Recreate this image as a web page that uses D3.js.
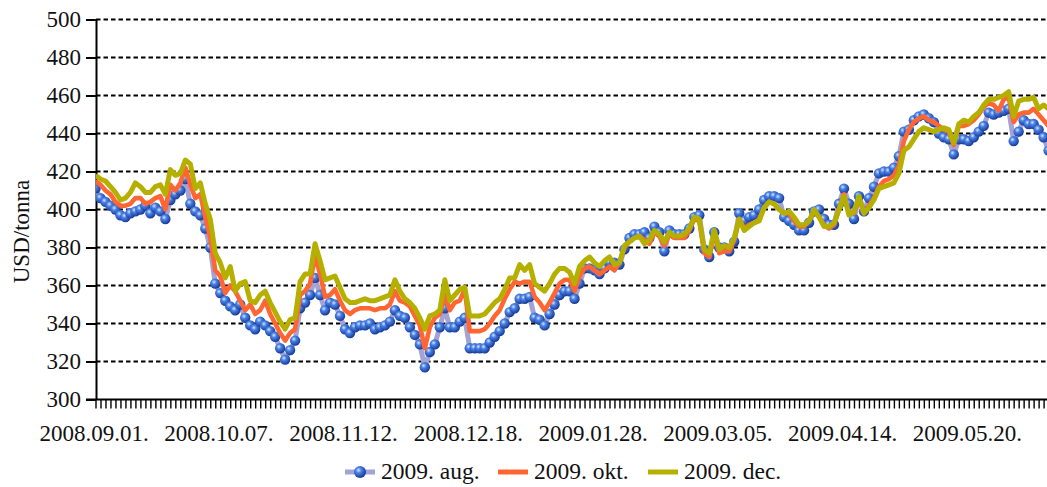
<!DOCTYPE html>
<html lang="hu">
<head>
<meta charset="utf-8">
<title>USD/tonna</title>
<script src="https://d3js.org/d3.v7.min.js"></script>
<style>
body { margin: 0; background: #fff; }
svg { display: block; font-family: "Liberation Serif", "DejaVu Serif", serif; }
.axis text { font-size: 23px; fill: #111; font-family: "Liberation Serif", serif; }
.axis path, .axis line { stroke: #000; }
.legend text { font-size: 23.5px; fill: #111; }
</style>
</head>
<body>
<svg width="1047" height="487"></svg>
<script>
// tick labels, one every 25 trading days
var xLabels = ["2008.09.01.", "2008.10.07.", "2008.11.12.", "2008.12.18.",
               "2009.01.28.", "2009.03.05.", "2009.04.14.", "2009.05.20."];
var labelEvery = 25;
var yTicks = [300, 320, 340, 360, 380, 400, 420, 440, 460, 480, 500];

// 2009. aug.
var aug = [411,406,404,402,400,397,396,398,399,400,402,398,401,399,395,405,408,410,416,403,
           399,397,390,380,361,356,352,349,347,350,343,339,337,341,339,336,333,327,321,326,
           331,348,351,355,364,355,347,351,350,344,337,335,338,339,339,340,337,338,339,341,
           347,344,343,338,334,329,317,325,329,338,348,338,338,341,343,327,327,327,327,330,
           333,336,340,346,348,353,353,354,343,342,339,345,350,355,357,357,353,361,369,369,
           368,366,369,372,372,371,379,385,387,387,388,385,391,388,378,389,387,387,387,390,
           396,397,379,375,388,380,380,378,383,398,394,396,397,400,405,407,407,406,396,394,
           392,389,389,393,399,400,395,392,392,403,411,403,395,407,399,406,412,419,420,420,
           422,428,441,442,447,449,450,448,446,440,438,437,429,437,437,436,438,441,444,451,
           450,451,452,453,436,441,447,445,445,442,438,431];
// 2009. okt.
var okt = [415,413,410,408,404,402,402,403,406,406,403,404,406,407,400,413,410,414,422,413,
           406,408,396,385,368,365,356,360,357,352,347,350,345,347,352,345,340,335,331,335,
           337,355,357,361,376,366,354,355,358,352,347,345,347,348,348,348,347,348,348,350,
           357,352,351,349,344,339,327,338,343,345,355,347,351,352,358,336,336,336,337,340,
           344,347,353,358,362,361,362,362,354,351,347,351,356,361,363,363,357,365,369,370,
           368,366,368,370,368,372,380,383,385,386,384,382,388,386,381,387,385,385,385,389,
           395,394,377,375,388,377,378,378,384,395,390,392,393,395,401,404,403,400,398,398,
           394,391,391,394,399,396,392,390,392,400,408,398,398,406,398,402,406,412,415,416,
           418,423,436,442,446,448,449,447,446,444,442,441,434,444,444,445,447,450,454,456,
           455,452,458,459,446,450,451,451,453,450,447,444];
// 2009. dec.
var dec = [418,416,415,412,409,405,406,409,414,412,409,409,412,413,408,421,418,419,426,424,
           411,414,403,395,377,372,364,370,357,361,362,352,351,355,357,351,346,341,337,342,
           343,362,366,366,382,373,363,364,365,359,353,351,351,352,353,352,352,353,354,355,
           363,357,353,351,348,343,337,344,345,347,363,352,355,358,359,344,344,344,345,348,
           351,353,358,364,364,371,368,371,361,359,357,361,366,369,369,367,361,370,373,375,
           372,370,373,375,371,372,381,383,385,386,382,384,389,387,383,388,386,386,387,390,
           396,395,379,377,389,379,381,380,385,395,389,391,393,394,401,404,403,400,398,399,
           396,392,392,394,400,396,391,391,393,400,407,397,399,407,398,401,405,411,412,413,
           414,419,431,433,437,441,443,442,441,442,443,442,435,445,447,446,449,451,455,458,
           458,459,460,462,449,457,458,458,459,453,455,453];

var svg = d3.select("svg"),
    width = +svg.attr("width"),
    plotLeft = 96,
    step = 4.99,
    plotTop = 19.5,
    plotBottom = 399.5;

var x = d3.scalePoint()
    .domain(d3.range(aug.length))
    .range([plotLeft - 0.5, plotLeft - 0.5 + step * (aug.length - 1)]);
var y = d3.scaleLinear().domain([300, 500]).range([plotBottom, plotTop]);

// sphere look for the aug markers
var defs = svg.append("defs");
var grad = defs.append("radialGradient").attr("id", "ball")
    .attr("cx", "38%").attr("cy", "35%").attr("r", "65%");
grad.append("stop").attr("offset", "0%").attr("stop-color", "#d6e6ff");
grad.append("stop").attr("offset", "35%").attr("stop-color", "#4a82e6");
grad.append("stop").attr("offset", "100%").attr("stop-color", "#163a98");

defs.append("clipPath").attr("id", "plot").append("rect")
    .attr("x", plotLeft).attr("y", 0).attr("width", width - plotLeft).attr("height", plotBottom + 2);

// dotted grid
svg.append("g").selectAll("line")
   .data(yTicks.filter(function(d) { return d > 300; }))
   .enter().append("line")
   .attr("x1", plotLeft).attr("x2", width)
   .attr("y1", function(d) { return y(d); })
   .attr("y2", function(d) { return y(d); })
   .attr("stroke", "#000")
   .attr("stroke-width", 2)
   .attr("stroke-dasharray", "4.5,3");

// x axis, a tick for every day
svg.append("g")
   .attr("class", "axis")
   .attr("transform", "translate(0," + plotBottom + ")")
   .call(d3.axisBottom(x)
     .tickSize(9).tickSizeOuter(0).tickPadding(16)
     .tickFormat(function(i) { return i % labelEvery === 0 ? (xLabels[i / labelEvery] || "") : ""; }))
   .call(function(g) {
     g.select(".domain").remove();
     g.selectAll(".tick line").attr("stroke-width", 1.4);
     g.selectAll(".tick text").attr("dx", "-2");
   });
svg.append("line")
   .attr("x1", plotLeft - 10).attr("x2", width)
   .attr("y1", plotBottom).attr("y2", plotBottom)
   .attr("stroke", "#000").attr("stroke-width", 2);

// y axis
svg.append("g")
   .attr("class", "axis")
   .attr("transform", "translate(" + plotLeft + ",0)")
   .call(d3.axisLeft(y).tickValues(yTicks).tickSize(10).tickSizeOuter(0).tickPadding(5))
   .call(function(g) {
     g.select(".domain").attr("stroke-width", 2);
     g.selectAll(".tick line").attr("stroke-width", 2);
   });

svg.append("text")
   .attr("transform", "translate(29," + ((plotTop + plotBottom) / 2 + 22) + ") rotate(-90)")
   .attr("text-anchor", "middle")
   .attr("font-size", "23px")
   .attr("fill", "#111")
   .text("USD/tonna");

var line = d3.line()
    .x(function(d, i) { return x(i); })
    .y(function(d) { return y(d); });

var plot = svg.append("g").attr("clip-path", "url(#plot)");

plot.append("path").datum(aug)
    .attr("d", line).attr("fill", "none")
    .attr("stroke", "#a3a3d6").attr("stroke-width", 5).attr("stroke-linejoin", "round");
plot.selectAll(".ball").data(aug)
    .enter().append("circle")
    .attr("class", "ball")
    .attr("cx", function(d, i) { return x(i); })
    .attr("cy", function(d) { return y(d); })
    .attr("r", 5.2)
    .attr("fill", "url(#ball)");
plot.append("path").datum(okt)
    .attr("d", line).attr("fill", "none")
    .attr("stroke", "#ff6633").attr("stroke-width", 4.6).attr("stroke-linejoin", "round");
plot.append("path").datum(dec)
    .attr("d", line).attr("fill", "none")
    .attr("stroke", "#b5b000").attr("stroke-width", 5).attr("stroke-linejoin", "round");

// legend
var legend = svg.append("g").attr("class", "legend");
var items = [
  { name: "2009. aug.", color: "#a3a3d6", ball: true, x: 345 },
  { name: "2009. okt.", color: "#ff6633", ball: false, x: 498 },
  { name: "2009. dec.", color: "#b5b000", ball: false, x: 648 }
];
items.forEach(function(it) {
  var g = legend.append("g").attr("transform", "translate(" + it.x + ",472)");
  g.append("line").attr("x1", 0).attr("x2", 30).attr("y1", 0).attr("y2", 0)
   .attr("stroke", it.color).attr("stroke-width", 5);
  if (it.ball) {
    g.append("circle").attr("cx", 15).attr("cy", 0).attr("r", 6).attr("fill", "url(#ball)");
  }
  g.append("text").attr("x", 36).attr("y", 7).text(it.name);
});
</script>
</body>
</html>
